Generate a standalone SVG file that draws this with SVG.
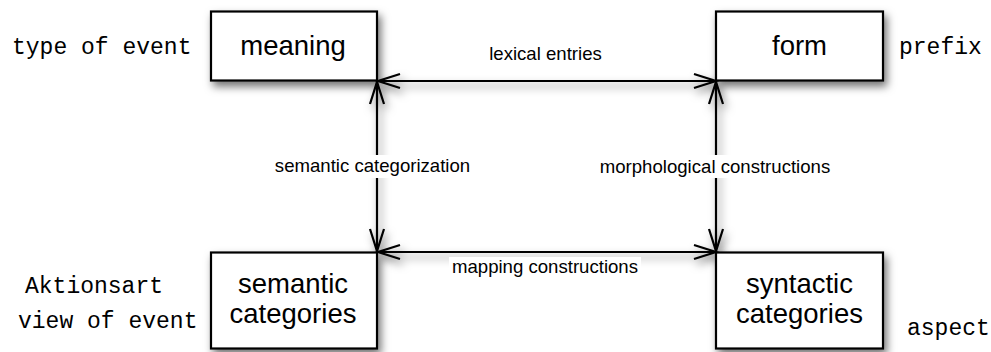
<svg xmlns="http://www.w3.org/2000/svg" width="991" height="352" viewBox="0 0 991 352">
<style>
.box{fill:#fff;stroke:#000;stroke-width:2.2}
.lbl{font-family:"Liberation Sans",Arial,sans-serif;font-size:27.5px;fill:#000;text-anchor:middle}
.edge{font-family:"Liberation Sans",Arial,sans-serif;font-size:18.6px;fill:#000;text-anchor:middle}
.mono{font-family:"Liberation Mono","Courier New",monospace;font-size:23px;fill:#000}
.ln{stroke:#000;stroke-width:2.2;fill:none;marker-start:url(#ah);marker-end:url(#ah)}
.bg{fill:#fff}
</style>
<defs>
<filter id="sh" x="-30%" y="-30%" width="160%" height="160%">
<feDropShadow dx="3" dy="5" stdDeviation="4" flood-color="#000" flood-opacity="0.55"/>
</filter>
<marker id="ah" markerUnits="userSpaceOnUse" markerWidth="30" markerHeight="20" viewBox="-24 -10 30 20" refX="0" refY="0" orient="auto-start-reverse">
<path d="M -22 -7 L 0 0 L -22 7" fill="none" stroke="#000" stroke-width="2.2"/>
</marker>
</defs>
<g id="connectors" filter="url(#sh)">
<line class="ln" x1="378" y1="81" x2="716" y2="81"/>
<line class="ln" x1="378" y1="252" x2="716" y2="252"/>
<line class="ln" x1="377" y1="82" x2="377" y2="251"/>
<line class="ln" x1="716" y1="82" x2="716" y2="251"/>
</g>
<g id="meaning"><rect class="box" x="211" y="11.5" width="166" height="69" filter="url(#sh)"/><text class="lbl" x="293" y="55">meaning</text></g>
<g id="form"><rect class="box" x="716" y="11.5" width="167" height="69" filter="url(#sh)"/><text class="lbl" x="799.5" y="55">form</text></g>
<g id="semantic-categories"><rect class="box" x="211" y="252.5" width="166" height="96" filter="url(#sh)"/><text class="lbl" x="293" y="293">semantic</text><text class="lbl" x="293" y="323">categories</text></g>
<g id="syntactic-categories"><rect class="box" x="716" y="252.5" width="167" height="96" filter="url(#sh)"/><text class="lbl" x="799.5" y="293">syntactic</text><text class="lbl" x="799.5" y="323">categories</text></g>
<g id="edge-labels">
<rect class="bg" x="486" y="44" width="120" height="22"/><text class="edge" x="545.5" y="60">lexical entries</text>
<rect class="bg" x="273" y="155" width="200" height="23"/><text class="edge" x="372.5" y="172">semantic categorization</text>
<rect class="bg" x="598" y="155" width="234" height="23"/><text class="edge" x="715" y="173">morphological constructions</text>
<rect class="bg" x="449" y="257" width="192" height="22"/><text class="edge" x="545" y="273">mapping constructions</text>
</g>
<g id="annotations">
<text class="mono" x="12" y="54">type of event</text>
<text class="mono" x="899" y="54">prefix</text>
<text class="mono" x="25" y="293">Aktionsart</text>
<text class="mono" x="18" y="328">view of event</text>
<text class="mono" x="907" y="335">aspect</text>
</g>
</svg>
